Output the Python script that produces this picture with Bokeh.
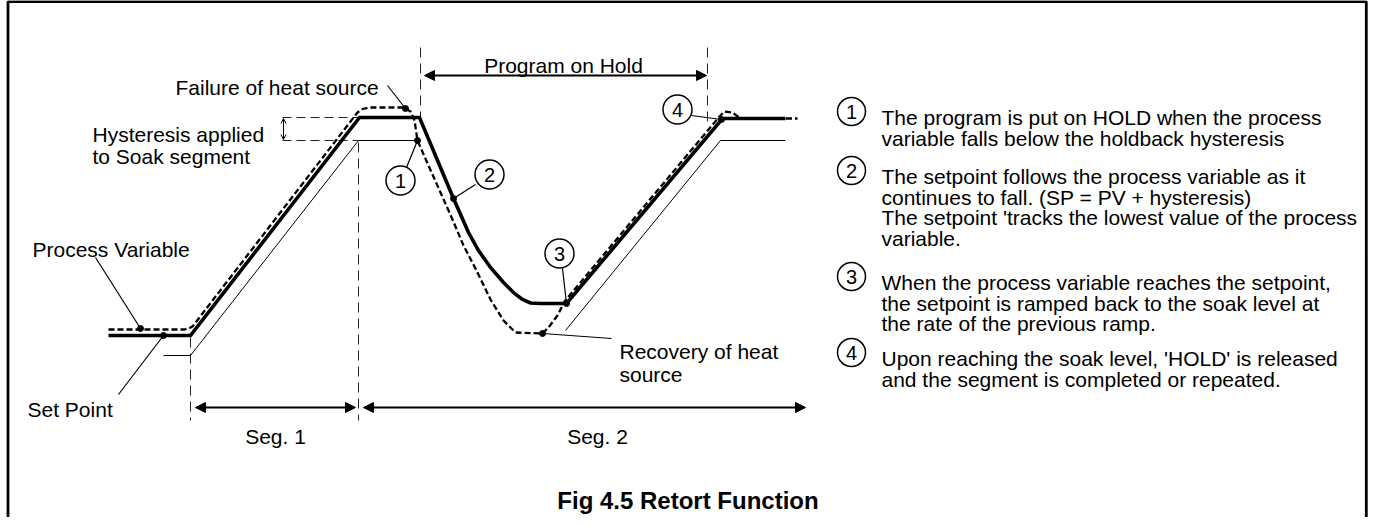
from bokeh.plotting import figure
from bokeh.models import Range1d, Arrow, NormalHead, OpenHead
from bokeh.core.properties import value
from bokeh.embed import file_html
from bokeh.resources import INLINE

FONT = "Liberation Sans"

# ---- curves (diagram coordinates) ----
sp_x = [108, 190, 359, 419, 453, 468, 478, 490, 503, 514, 522, 530, 540, 566, 722, 785]
sp_y = [343, 343, 125, 125, 206, 240, 258, 275, 290, 301, 307, 310.5, 311, 311, 126, 126]

pv_x = [108, 184, 189, 192, 357, 362, 369, 403, 410, 414, 417, 428, 440, 452, 463, 477, 490,
        503, 515, 542, 548, 557, 564, 719, 724, 732, 740, 797]
pv_y = [337, 337, 335.5, 334, 120, 116.5, 115, 115, 119, 128, 148, 173, 200, 227, 253, 280, 307,
        328, 340, 341, 335, 323, 309, 124, 119, 120, 126, 126]

band1_x = [163, 190, 358, 417]
band1_y = [363, 363, 148, 148]
band2_x = [565, 720, 785]
band2_y = [338, 148, 148]

hyst_xs = [[282, 359], [282, 358]]
hyst_ys = [[125, 125], [148, 148]]

vd_xs = [[190, 190], [358, 358], [420, 420], [707, 707]]
vd_ys = [[345, 428], [150, 428], [55, 124], [55, 135]]

dot_x = [140, 163, 405, 417, 453, 566, 542, 721]
dot_y = [336, 343, 116, 148, 206, 311, 341, 127]

lead_xs = [[95, 140], [118, 163], [387, 405], [406, 417], [475, 453], [562, 566], [691, 721], [542, 611]]
lead_ys = [[265, 336], [402, 343], [93, 116], [175, 148], [192, 206], [276, 311], [123, 127], [341, 346]]

# circled numbers in the diagram
num_x = [400, 489, 559, 677]
num_y = [188, 182, 261, 117]
num_t = ["1", "2", "3", "4"]

# labels
lab_x = [175, 92, 92, 32, 27, 619, 619]
lab_y = [95, 142, 164, 257, 417, 359, 382]
lab_t = ["Failure of heat source", "Hysteresis applied", "to Soak segment",
         "Process Variable", "Set Point", "Recovery of heat", "source"]

cen_x = [563, 275, 597]
cen_y = [73, 444, 444]
cen_t = ["Program on Hold", "Seg. 1", "Seg. 2"]

# right-hand notes
note_x = 881
note_y = [125, 145.5, 184, 204.5, 225, 245.5, 290, 310.5, 331, 366, 386.5]
note_t = [
    "The program is put on HOLD when the process",
    "variable falls below the holdback hysteresis",
    "The setpoint follows the process variable as it",
    "continues to fall. (SP = PV + hysteresis)",
    "The setpoint 'tracks the lowest value of the process",
    "variable.",
    "When the process variable reaches the setpoint,",
    "the setpoint is ramped back to the soak level at",
    "the rate of the previous ramp.",
    "Upon reaching the soak level, 'HOLD' is released",
    "and the segment is completed or repeated.",
]
note_cx = [851, 851, 851, 851]
note_cy = [119, 178, 284, 360]

title = "Fig 4.5 Retort Function"

p = figure(width=1368, height=517, x_range=Range1d(0, 1368), y_range=Range1d(525, 8),
           output_backend="svg", toolbar_location=None, min_border=0,
           x_axis_location=None, y_axis_location=None)
p.grid.visible = False
p.outline_line_color = None
p.background_fill_color = "white"
p.border_fill_color = "white"

# frame
p.line([7.5, 7.5, 1365.8, 1365.8], [525, 9.2, 9.2, 525], line_color="black", line_width=2.8)

# guide lines
p.multi_line(vd_xs, vd_ys, line_color="#222222", line_width=1, line_dash="10 6")
p.multi_line(hyst_xs, hyst_ys, line_color="#222222", line_width=1, line_dash="9 5")

# thin offset band
p.line(band1_x, band1_y, line_color="black", line_width=1)
p.line(band2_x, band2_y, line_color="black", line_width=1)

# PV dashed
p.line(pv_x, pv_y, line_color="black", line_width=2.3, line_dash="6 3")
# Setpoint thick
p.line(sp_x, sp_y, line_color="black", line_width=3.6, line_join="miter")

# leaders and dots
p.multi_line(lead_xs, lead_ys, line_color="black", line_width=1.2)
p.scatter(dot_x, dot_y, marker="circle", size=6, fill_color="black", line_color="black")

# arrows
def head():
    return NormalHead(size=10, fill_color="black", line_color="black")

p.add_layout(Arrow(start=head(), end=head(), x_start=424, y_start=83, x_end=706, y_end=83, line_width=2))
p.add_layout(Arrow(start=head(), end=head(), x_start=195, y_start=415, x_end=355, y_end=415, line_width=2))
p.add_layout(Arrow(start=head(), end=head(), x_start=363, y_start=415, x_end=805, y_end=415, line_width=2))
p.add_layout(Arrow(start=OpenHead(size=5, line_width=1), end=OpenHead(size=5, line_width=1),
                   x_start=283, y_start=126, x_end=283, y_end=147, line_width=1))

# circles
p.scatter(num_x, num_y, marker="circle", size=29, fill_color="white", line_color="black", line_width=1.5)
p.text(num_x, num_y, text=num_t, text_align="center", text_baseline="middle",
       text_font=value(FONT), text_font_size="20px", text_color="black")
p.scatter(note_cx, note_cy, marker="circle", size=28, fill_color="white", line_color="black", line_width=1.5)
p.text(note_cx, note_cy, text=num_t, text_align="center", text_baseline="middle",
       text_font=value(FONT), text_font_size="20px", text_color="black")

# labels
p.text(lab_x, lab_y, text=lab_t, text_align="left", text_baseline="alphabetic",
       text_font=value(FONT), text_font_size="21px", text_color="black")
p.text(cen_x, cen_y, text=cen_t, text_align="center", text_baseline="alphabetic",
       text_font=value(FONT), text_font_size="21px", text_color="black")
p.text([note_x] * len(note_y), note_y, text=note_t, text_align="left", text_baseline="alphabetic",
       text_font=value(FONT), text_font_size="21px", text_color="black")
p.text([687.5], [508], text=[title], text_align="center", text_baseline="alphabetic",
       text_font=value(FONT), text_font_size="24px", text_font_style="bold", text_color="black")

open("out.html", "w").write(file_html(p, INLINE))
